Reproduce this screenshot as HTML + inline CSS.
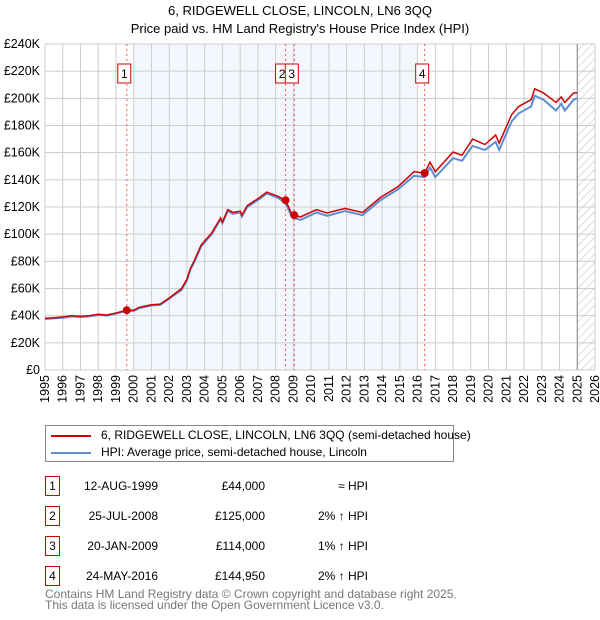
<!DOCTYPE html>
<html><head><meta charset="utf-8"><style>
body{margin:0;background:#fff;font-family:"Liberation Sans","DejaVu Sans",sans-serif;}
#wrap{position:relative;width:600px;height:620px;overflow:hidden}
.t{position:absolute;font-size:12px;color:#000;white-space:nowrap}
.box{position:absolute;border:1px solid #c00;width:13px;height:18px;font-size:12px;text-align:center;line-height:18px}
</style></head><body><div id="wrap">
<svg id="svg" width="600" height="420" style="position:absolute;left:0;top:0">
<defs><pattern id="hatch" width="6" height="6" patternUnits="userSpaceOnUse" patternTransform="rotate(45)"><line x1="0" y1="0" x2="0" y2="6" stroke="#bbb" stroke-width="1"/></pattern></defs>
<text x="300" y="15" text-anchor="middle" font-size="13">6, RIDGEWELL CLOSE, LINCOLN, LN6 3QQ</text>
<text x="300" y="33" text-anchor="middle" font-size="13">Price paid vs. HM Land Registry's House Price Index (HPI)</text>
<g id="g"></g>
</svg>
<div style="position:absolute;left:45px;top:425px;width:407px;height:35px;border:1px solid #888">
<div style="position:absolute;left:5px;top:9px;width:40px;height:2px;background:#c00"></div>
<div class="t" style="left:55px;top:2px">6, RIDGEWELL CLOSE, LINCOLN, LN6 3QQ (semi-detached house)</div>
<div style="position:absolute;left:5px;top:26px;width:40px;height:2px;background:#5b8fd0"></div>
<div class="t" style="left:55px;top:19px">HPI: Average price, semi-detached house, Lincoln</div>
</div>
<div id="table"></div>
<div class="t" style="left:45px;top:589px;color:#777;line-height:11px">Contains HM Land Registry data © Crown copyright and database right 2025.<br>This data is licensed under the Open Government Licence v3.0.</div>
</div>
<script>
const years=[1995,1995.5,1996,1996.5,1997,1997.5,1998,1998.5,1999,1999.6,2000,2000.3,2001,2001.5,2002,2002.7,2003,2003.2,2003.4,2003.8,2004.4,2004.9,2005,2005.3,2005.6,2006,2006.1,2006.4,2007.1,2007.5,2008.1,2008.56,2008.9,2009.05,2009.4,2010.3,2010.9,2011.9,2012.9,2013.9,2014.9,2015.8,2016.4,2016.7,2017,2018,2018.5,2019.1,2019.8,2020.4,2020.6,2021.3,2021.7,2022.4,2022.6,2023.1,2023.8,2024.1,2024.3,2024.8,2025];
const price=[38,38.5,39,40,39.5,40,41,40.5,42,44,44,46,48,48.5,53,60,67,75,80,92,101,112,109,118,116,117,114,121,127,131,128,125,115,114,112.7,118,115.6,119,116,127,135,146,144.95,153,146,160.5,158,170,166,173,167,188,194,199,207,204,197,201,197,204,204];
const hpi=[37.5,38,38.5,39.5,39,39.5,40.5,40,41.5,43.5,43.5,45.5,47.5,48,52.5,59,66,74,79,91,100,111,108,117,115,116,113,120,126,130,127,123,113,112,110.5,116,113.5,117,114,125,133,143,142,149,142,156,154,165,162,168,162,183,189,194,202,199,191,196,191,199,200];
const sales=[{d:"12-AUG-1999",y:1999.61,p:44,ps:"£44,000",h:"≈ HPI"},{d:"25-JUL-2008",y:2008.56,p:125,ps:"£125,000",h:"2% ↑ HPI"},{d:"20-JAN-2009",y:2009.05,p:114,ps:"£114,000",h:"1% ↑ HPI"},{d:"24-MAY-2016",y:2016.4,p:144.95,ps:"£144,950",h:"2% ↑ HPI"}];
const yTicks=[0,20,40,60,80,100,120,140,160,180,200,220,240];
const X0=45,X1=595,Y0=370,Y1=44;
const xs=y=>X0+(y-1995)*(X1-X0)/31, ys=v=>Y0-v*(Y0-Y1)/240;
const g=document.getElementById('g'),NS='http://www.w3.org/2000/svg';
function mk(t,a){const e=document.createElementNS(NS,t);for(const k in a)e.setAttribute(k,a[k]);g.appendChild(e);return e;}
let e=mk('rect',{x:xs(2000),y:Y1,width:xs(2016)-xs(2000),height:Y0-Y1,fill:'#eef3fc',opacity:0.7});

e=mk('rect',{x:xs(2025),y:Y1,width:X1-xs(2025),height:Y0-Y1,fill:'url(#hatch)'});

for(const v of yTicks){e=mk('line',{x1:X0,x2:X1,y1:ys(v),y2:ys(v),stroke:'#ccc'});
e=mk('text',{x:40,y:ys(v)+4,'text-anchor':'end','font-size':12.5});e.textContent=v?'£'+v+'K':'£0';}
for(let yr=1995;yr<=2026;yr++){e=mk('line',{x1:xs(yr),x2:xs(yr),y1:Y1,y2:Y0,stroke:'#ccc'});
e=mk('text',{x:0,y:0,'text-anchor':'end','font-size':12.5,transform:`translate(${xs(yr)+4},375) rotate(-90)`});e.textContent=yr;}
e=mk('line',{x1:xs(2025),x2:xs(2025),y1:Y1,y2:Y0,stroke:'#888'});
sales.forEach((s,i)=>{e=mk('line',{x1:xs(s.y),x2:xs(s.y),y1:Y1,y2:Y0,stroke:'#e55','stroke-dasharray':'2,3'});
const bx=i==1?xs(s.y)-10:(i==2?xs(s.y)-9:xs(s.y)-9);
e=mk('rect',{x:bx,y:64,width:13,height:19,fill:'#fff',stroke:'#c00'});
e=mk('text',{x:bx+6.5,y:78,'text-anchor':'middle','font-size':12});e.textContent=i+1;});
e=mk('polyline',{points:years.map((y,i)=>xs(y)+','+ys(hpi[i])).join(' '),fill:'none',stroke:'#5b8fd0','stroke-width':2});
e=mk('polyline',{points:years.map((y,i)=>xs(y)+','+ys(price[i])).join(' '),fill:'none',stroke:'#c00','stroke-width':1.5});
sales.forEach(s=>{e=mk('circle',{cx:xs(s.y),cy:ys(s.p),r:4,fill:'#c00'});});
const tb=document.getElementById('table');
sales.forEach((s,i)=>{const top=476+i*30;
tb.insertAdjacentHTML('beforeend',`<div class="box" style="left:45px;top:${top}px">${i+1}</div><div class="t" style="right:442px;top:${top+3}px">${s.d}</div><div class="t" style="right:335px;top:${top+3}px">${s.ps}</div><div class="t" style="right:232px;top:${top+3}px">${s.h}</div>`);});
</script></body></html>
